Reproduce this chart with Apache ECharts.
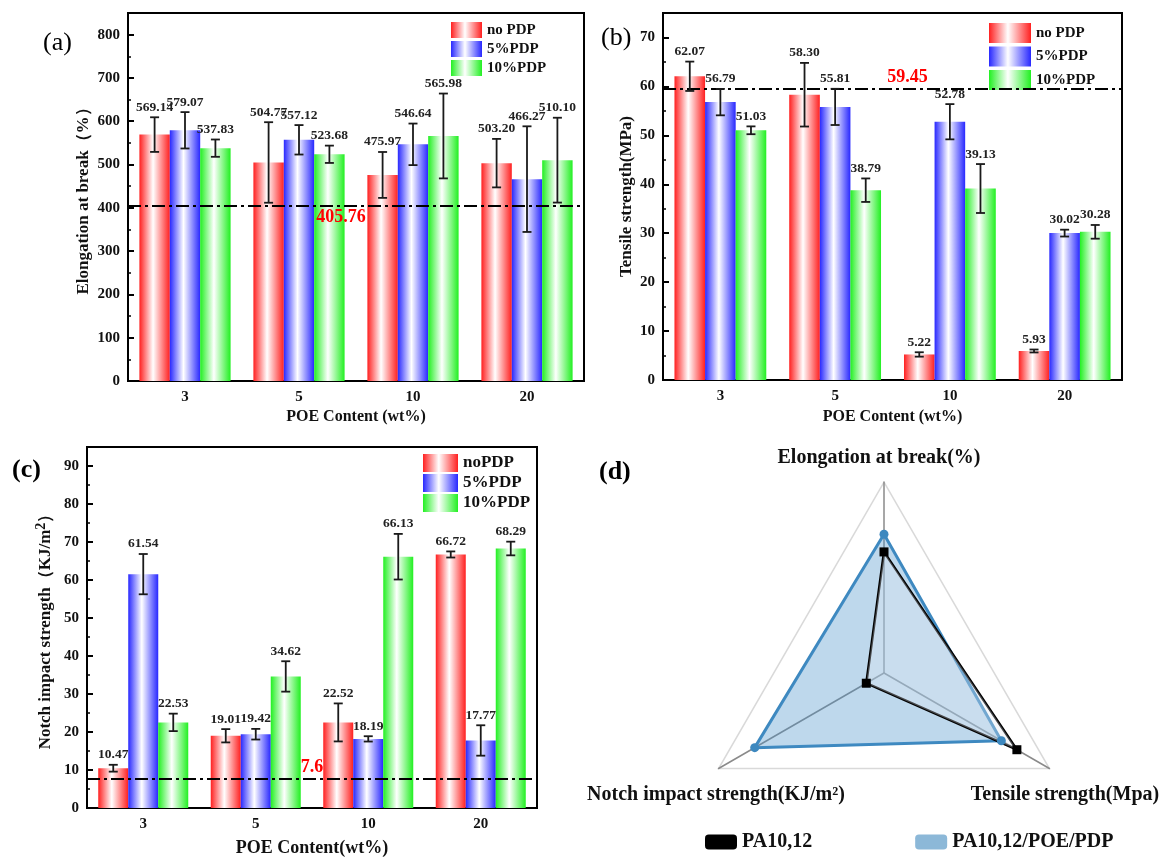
<!DOCTYPE html>
<html><head><meta charset="utf-8">
<script src="https://cdn.jsdelivr.net/npm/echarts@6/dist/echarts.min.js"></script>
<style>html,body{margin:0;padding:0;background:#fff}#c{width:1165px;height:859px}</style>
</head><body><div id="c"></div>
<script>
// ---------- data ----------
const categories = ['3', '5', '10', '20'];
const legendAB = ['no PDP', '5%PDP', '10%PDP'];
const legendC = ['noPDP', '5%PDP', '10%PDP'];

const elongNo = [569.14, 504.77, 475.97, 503.20];
const elong5 = [579.07, 557.12, 546.64, 466.27];
const elong10 = [537.83, 523.68, 565.98, 510.10];
const elongErrNo = [40, 93, 53, 56];
const elongErr5 = [42, 34, 48, 122];
const elongErr10 = [20, 20, 98, 98];
const elongRef = 405.76;

const tensNo = [62.07, 58.30, 5.22, 5.93];
const tens5 = [56.79, 55.81, 52.78, 30.02];
const tens10 = [51.03, 38.79, 39.13, 30.28];
const tensErrNo = [3.0, 6.5, 0.45, 0.3];
const tensErr5 = [2.7, 3.7, 3.6, 0.7];
const tensErr10 = [0.8, 2.4, 5.0, 1.4];
const tensRef = 59.45;

const impNo = [10.47, 19.01, 22.52, 66.72];
const imp5 = [61.54, 19.42, 18.19, 17.77];
const imp10 = [22.53, 34.62, 66.13, 68.29];
const impErrNo = [0.9, 1.75, 5.0, 0.8];
const impErr5 = [5.3, 1.4, 0.7, 4.0];
const impErr10 = [2.3, 4.0, 6.0, 1.8];
const impRef = 7.6;

const radarNames = ['Elongation at break(%)', 'Notch impact strength(KJ/m²)', 'Tensile strength(Mpa)'];
const radarMax = [640, 71, 74];
const radarPA = [405.76, 7.6, 59.45];
const radarBlend = [465, 55.5, 52.5];
const radarLegend = ['PA10,12', 'PA10,12/POE/PDP'];

// ---------- styles ----------
const SERIF = '"Liberation Serif", "Times New Roman", serif';
const COLORS = ['#ff2020', '#2828ff', '#22f022'];
function grad(c) {
  return new echarts.graphic.LinearGradient(0, 0, 1, 0, [
    {offset: 0, color: c}, {offset: 0.45, color: '#ffffff'}, {offset: 1, color: c}
  ]);
}

function errRender(pos, n) {
  return function (params, api) {
    const ci = api.value(0), v = api.value(1), e = api.value(2);
    const catW = api.size([1, 0])[0];
    const barW = catW * 0.8 / n;
    const cx = api.coord([ci, v])[0] + (pos - (n - 1) / 2) * barW;
    const top = api.coord([ci, v + e])[1];
    const bot = api.coord([ci, v - e])[1];
    const cap = 4.5;
    const ls = {stroke: '#1a1a1a', lineWidth: 1.8};
    return {
      type: 'group', children: [
        {type: 'line', shape: {x1: cx, y1: top, x2: cx, y2: bot}, style: ls},
        {type: 'line', shape: {x1: cx - cap, y1: top, x2: cx + cap, y2: top}, style: ls},
        {type: 'line', shape: {x1: cx - cap, y1: bot, x2: cx + cap, y2: bot}, style: ls},
        {type: 'text', x: cx, y: top - 3, style: {
          text: v.toFixed(2), align: 'center', verticalAlign: 'bottom',
          textAlign: 'center', textVerticalAlign: 'bottom',
          font: 'bold 13.5px ' + SERIF, fill: '#222'}}
      ]
    };
  };
}

function panelSeries(gi, names, vals, errs, ref, labelPos, labelPad) {
  const out = [];
  vals.forEach((arr, si) => {
    const s = {
      type: 'bar', name: names[si], xAxisIndex: gi, yAxisIndex: gi, data: arr,
      barGap: '0%', barCategoryGap: '20%', itemStyle: {color: grad(COLORS[si])}, z: 2
    };
    if (si === 0) {
      s.markLine = {
        silent: true, symbol: 'none',
        lineStyle: {color: '#000', type: [13, 4, 3, 4], width: 2},
        label: {show: true, position: labelPos, formatter: String(ref), color: '#ff0000',
          fontFamily: SERIF, fontWeight: 'bold', fontSize: 18, padding: labelPad, distance: 3},
        data: [{yAxis: ref}]
      };
    }
    out.push(s);
    out.push({
      type: 'custom', xAxisIndex: gi, yAxisIndex: gi, z: 5, silent: true,
      renderItem: errRender(si, 3),
      data: arr.map((v, i) => [i, v, errs[si][i]])
    });
  });
  return out;
}

const axisText = {fontFamily: SERIF, fontWeight: 'bold', color: '#111'};
function xAxis(gi, name, gap, size) {
  return {
    type: 'category', gridIndex: gi, data: categories, name: name, nameLocation: 'middle', nameGap: gap,
    nameTextStyle: Object.assign({fontSize: size}, axisText),
    axisLine: {lineStyle: {color: '#000', width: 2}},
    axisTick: {alignWithLabel: true, inside: true, length: 6, lineStyle: {color: '#000', width: 2}},
    axisLabel: Object.assign({fontSize: 15, margin: 9}, axisText),
    splitLine: {show: false}
  };
}
function yAxis(gi, max, step, name, gap, rich) {
  return {
    type: 'value', gridIndex: gi, min: 0, max: max, interval: step,
    name: name, nameLocation: 'middle', nameGap: gap,
    nameTextStyle: Object.assign({fontSize: 17, rich: rich || {}}, axisText),
    axisLine: {show: true, lineStyle: {color: '#000', width: 2}},
    axisTick: {show: true, inside: true, length: 6, lineStyle: {color: '#000', width: 2}},
    minorTick: {show: true, splitNumber: 2, length: 3, lineStyle: {color: '#000', width: 1.5}},
    splitLine: {show: false},
    axisLabel: Object.assign({fontSize: 15, margin: 8, showMaxLabel: false}, axisText)
  };
}
function legend(left, top, w, h, gap, names, size) {
  return {
    orient: 'vertical', left: left, top: top, itemWidth: w, itemHeight: h, itemGap: gap, padding: 0,
    icon: 'rect', selectedMode: false, data: names,
    textStyle: {fontFamily: SERIF, fontWeight: 'bold', fontSize: size, color: '#111'}
  };
}
const gridBase = {show: true, borderColor: '#000', borderWidth: 2, backgroundColor: 'transparent'};

const series = []
  .concat(panelSeries(0, legendAB, [elongNo, elong5, elong10], [elongErrNo, elongErr5, elongErr10], elongRef, 'insideMiddleBottom', [0, 30, 0, 0]))
  .concat(panelSeries(1, legendAB, [tensNo, tens5, tens10], [tensErrNo, tensErr5, tensErr10], tensRef, 'insideMiddleTop', [0, 0, 0, 30]))
  .concat(panelSeries(2, legendC, [impNo, imp5, imp10], [impErrNo, impErr5, impErr10], impRef, 'insideMiddleTop', [0, 0, 0, 0]));

series.push({
  type: 'radar', radarIndex: 0, silent: true,
  data: [
    {name: radarLegend[1], value: radarBlend, symbol: 'circle', symbolSize: 9,
      itemStyle: {color: '#3d88bf'}, lineStyle: {color: '#3d88bf', width: 3},
      areaStyle: {color: 'rgba(70,145,200,0.5)'}},
    {name: radarLegend[0], value: radarPA, symbol: 'rect', symbolSize: 9,
      itemStyle: {color: '#000'}, lineStyle: {color: '#000', width: 2.5},
      areaStyle: {color: 'rgba(228,234,242,0.45)'}}
  ]
});

const titleFont = 'bold 20px ' + SERIF;
const option = {
  animation: false,
  backgroundColor: '#fff',
  grid: [
    Object.assign({left: 128, top: 13, width: 456, height: 368}, gridBase),
    Object.assign({left: 663, top: 13, width: 459, height: 367}, gridBase),
    Object.assign({left: 87, top: 447, width: 450, height: 361}, gridBase)
  ],
  xAxis: [
    xAxis(0, 'POE Content (wt%)', 28, 16),
    xAxis(1, 'POE Content (wt%)', 29, 16),
    xAxis(2, 'POE Content(wt%)', 31, 18)
  ],
  yAxis: [
    yAxis(0, 850, 100, 'Elongation at break（%）', 36),
    yAxis(1, 75, 10, 'Tensile strength(MPa)', 28),
    yAxis(2, 95, 10, 'Notch impact strength（KJ/m{sup|2}）', 30,
      {sup: {fontFamily: SERIF, fontWeight: 'bold', fontSize: 14, color: '#111', verticalAlign: 'bottom', padding: [0, 0, 9, 0]}})
  ],
  legend: [
    legend(451, 22, 31, 16, 3, legendAB, 15),
    legend(989, 23, 42, 20, 3.5, legendAB, 15),
    legend(423, 454, 35, 18, 2, legendC, 17),
    {
      orient: 'horizontal', left: 705, top: 832, itemWidth: 32, itemHeight: 15, itemGap: 103, padding: 0,
      selectedMode: false,
      data: [
        {name: radarLegend[0], icon: 'roundRect', itemStyle: {color: '#000', borderWidth: 0}},
        {name: radarLegend[1], icon: 'roundRect', itemStyle: {color: '#8cb8d8', borderWidth: 0}}
      ],
      textStyle: {fontFamily: SERIF, fontWeight: 'bold', fontSize: 20, color: '#111'}
    }
  ],
  radar: {
    center: [884, 673], radius: 191, startAngle: 90, shape: 'polygon', splitNumber: 1,
    indicator: radarNames.map((n, i) => ({name: n, min: 0, max: radarMax[i]})),
    axisName: {show: false},
    axisLine: {lineStyle: {color: '#8a8a8a', width: 1.5}},
    splitLine: {lineStyle: {color: '#d9d9d9', width: 1.5}},
    splitArea: {show: false}
  },
  graphic: [
    {type: 'text', left: 43, top: 30, style: {text: '(a)', font: '26px ' + SERIF, fill: '#000'}},
    {type: 'text', left: 601, top: 25, style: {text: '(b)', font: '26px ' + SERIF, fill: '#000'}},
    {type: 'text', left: 12, top: 457, style: {text: '(c)', font: 'bold 26px ' + SERIF, fill: '#000'}},
    {type: 'text', left: 599, top: 459, style: {text: '(d)', font: 'bold 26px ' + SERIF, fill: '#000'}},
    {type: 'text', x: 879, y: 458, style: {text: radarNames[0], font: titleFont, fill: '#111', align: 'center', verticalAlign: 'middle', textAlign: 'center', textVerticalAlign: 'middle'}},
    {type: 'text', x: 716, y: 795, style: {text: radarNames[1], font: titleFont, fill: '#111', align: 'center', verticalAlign: 'middle', textAlign: 'center', textVerticalAlign: 'middle'}},
    {type: 'text', x: 1065, y: 795, style: {text: radarNames[2], font: titleFont, fill: '#111', align: 'center', verticalAlign: 'middle', textAlign: 'center', textVerticalAlign: 'middle'}}
  ],
  series: series
};

const chart = echarts.init(document.getElementById('c'), null, {renderer: 'canvas'});
chart.setOption(option);
</script></body></html>
